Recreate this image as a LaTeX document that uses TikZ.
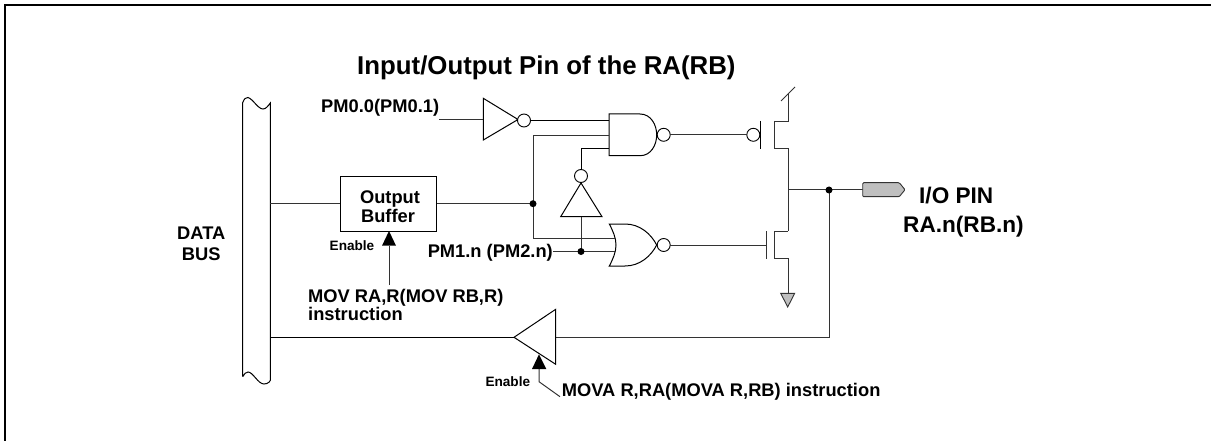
\documentclass[tikz,border=0pt]{standalone}
\usepackage{fontspec}
\setmainfont{Liberation Sans}
\usetikzlibrary{arrows.meta}
\tikzset{
  x=1pt,y=-1pt,
  wire/.style={line width=1pt,draw=black!80},
  thin wire/.style={line width=1pt,draw=black},
  gate/.style={line width=1pt,draw=black},
  bubble/.style={circle,draw=black,line width=0.9pt,fill=white,minimum size=13pt,inner sep=0pt,outer sep=0pt},
  junction/.style={circle,fill=black,minimum size=7pt,inner sep=0pt,outer sep=0pt},
  label/.style={font=\bfseries\fontsize{18.3}{18.3}\selectfont,inner sep=0pt,align=left,text=black},
  big label/.style={font=\bfseries\fontsize{22.6}{22.6}\selectfont,inner sep=0pt,text=black},
  small label/.style={font=\bfseries\fontsize{13.6}{13.6}\selectfont,inner sep=0pt,text=black},
  enable tip/.style={fill=black,draw=none}
}
\begin{document}
\begin{tikzpicture}
\useasboundingbox (0,0) rectangle (1211,441);
\draw[line width=2pt,line cap=butt] (5,441) -- (5,5.5) -- (1211,5.5);

\node[font=\bfseries\fontsize{25.8}{25.8}\selectfont,anchor=base west,inner sep=0pt] (title) at (357,75) {Input/Output Pin of the RA(RB)};

% data bus
\draw[gate] (242.7,376.7) -- (242.7,102.7) .. controls (244,99) and (246,97) .. (248,97.5) .. controls (253,99) and (258,109) .. (263,109) .. controls (266,109) and (268,106) .. (270.3,103) -- (270.3,378) .. controls (271.5,381) and (268,384) .. (264,384) .. controls (258,384) and (253,372) .. (248,372) .. controls (246,372) and (244,374) .. (242.7,376.7);
\coordinate (busA) at (270.3,203.7);
\coordinate (busB) at (270.3,337.3);
\node[label,anchor=base] (data) at (201.3,239) {DATA};
\node[label,anchor=base] (bus) at (201.3,260.3) {BUS};

% output buffer
\node[draw=black,line width=1pt,minimum width=96.4pt,minimum height=54.7pt,inner sep=0pt,outer sep=0pt] (buf) at (388.5,203.7) {};
\node[label,anchor=base] (out) at (390,203.3) {Output};
\node[label,anchor=base] (bufl) at (388,222.7) {Buffer};
\coordinate (jA) at (533,203.7);
\draw[wire] (busA) -- (buf.west);
\draw[wire] (buf.east) -- (jA);

% buffer enable
\coordinate (enA) at (389,285);
\coordinate (enAb) at (389,245.7);
\draw[wire] (enA) -- (enAb);
\draw[enable tip] (389,231) -- (396,245.7) -- (382,245.7) -- cycle;
\node[small label,anchor=base west] (en1) at (329.5,250) {Enable};
\node[label,anchor=base west] (movra) at (308,302.7) {MOV RA,R(MOV RB,R)};
\node[label,anchor=base west] (movrb) at (308,320.7) {instruction};

% top inverter
\node[label,anchor=base west] (pm0) at (321,112.7) {PM0.0(PM0.1)};
\coordinate (invIn) at (439,119.5);
\draw[gate,fill=white] (483.3,98.3) -- (518,119.5) -- (483.3,140) -- cycle;
\draw[wire] (invIn) -- (483.3,119.5);
\node[bubble] (b1) at (524,120.5) {};

% NAND
\draw[gate,fill=white] (609,114) -- (640,114) .. controls (651,114) and (656.7,125) .. (656.7,134.8) .. controls (656.7,145) and (651,155.7) .. (640,155.7) -- (609,155.7) -- cycle;
\node[bubble] (b2) at (663.7,134.8) {};
\coordinate (n1) at (609,121);
\coordinate (n2) at (609,135.3);
\coordinate (n3) at (609,149);
\draw[thin wire] (b1.east |- n1) -- (n1);
\draw[wire] (jA) -- (533,135.3) -- (n2);
\draw[wire] (jA) -- (533,238.3) -- (615.5,238.3);

% feedback inverter
\node[bubble] (b3) at (581,176) {};
\draw[gate,fill=white] (581,183) -- (602,216.7) -- (560.7,216.7) -- cycle;
\draw[thin wire] (b3.north) -- (581,149) -- (n3);
\coordinate (jB) at (581,251.5);
\draw[wire] (581,216.7) -- (jB);

% NOR
\node[label,anchor=base east] (pm1) at (553,258) {PM1.n (PM2.n)};
\draw[wire] (553,251.5) -- (616,251.5);
\draw[gate,fill=white] (609.3,224) .. controls (613,231) and (616,238) .. (616,245) .. controls (616,252) and (613,259) .. (609.3,266) -- (625,266) .. controls (640,266) and (651,256) .. (656.7,245) .. controls (651,234) and (640,224) .. (625,224) -- cycle;
\draw[wire] (600,238.3) -- (615.5,238.3);
\draw[wire] (600,251.5) -- (616,251.5);
\node[bubble] (b4) at (663.7,245) {};

% PMOS
\node[bubble] (b5) at (753.3,134.8) {};
\draw[wire] (b2.east) -- (b5.west);
\draw[thin wire] (760.7,121) -- (760.7,148.7);
\draw[wire] (774,121) -- (774,148.7);
\draw[wire] (774,121.3) -- (788,121.3) -- (788,93.5);
\coordinate (vddA) at (781,101);
\coordinate (vddB) at (795,87);
\draw[wire] (vddA) -- (vddB);
\draw[wire] (774,148.7) -- (788,148.7) -- (788,231);

% NMOS
\draw[wire] (b4.east) -- (766.7,245);
\draw[wire] (766.7,231) -- (766.7,258.7);
\draw[wire] (774,231) -- (774,258.7);
\draw[wire] (774,231) -- (788,231);
\draw[wire] (774,258.7) -- (788,258.7) -- (788,293.3);
\draw[line width=0.9pt,draw=black!80,fill=black!25] (780.7,293.3) -- (794.7,293.3) -- (787.7,307) -- cycle;

% output
\coordinate (jC) at (829,190);
\draw[wire] (788,190) -- (jC);
\draw[wire] (jC) -- (862.7,190);
\draw[line width=0.9pt,draw=black!80,fill=black!25,rounded corners=1pt] (862.7,182.7) -- (899.3,182.7) -- (905,189.7) -- (899.3,196.7) -- (862.7,196.7) -- cycle;
\node[big label,anchor=base west] (io) at (919,203.3) {I/O PIN};
\node[big label,anchor=base west] (ran) at (903,232.3) {RA.n(RB.n)};

% read path
\draw[wire] (jC) -- (829,337.3) -- (555,337.3);
\draw[gate,fill=white] (555.7,309.3) -- (555.7,364.3) -- (514,337.3) -- cycle;
\draw[thin wire] (514,337.3) -- (busB);
\draw[wire] (560,396.7) -- (539,381.7) -- (539,369);
\draw[enable tip] (539,354.3) -- (546.3,369) -- (532,369) -- cycle;
\node[small label,anchor=base west] (en2) at (485.3,386) {Enable};
\node[label,anchor=base west] (mova) at (561.7,396.7) {MOVA R,RA(MOVA R,RB) instruction};

% junctions
\node[junction] (d1) at (jA) {};
\node[junction] (d2) at (jB) {};
\node[junction] (d3) at (jC) {};
\end{tikzpicture}
\end{document}
